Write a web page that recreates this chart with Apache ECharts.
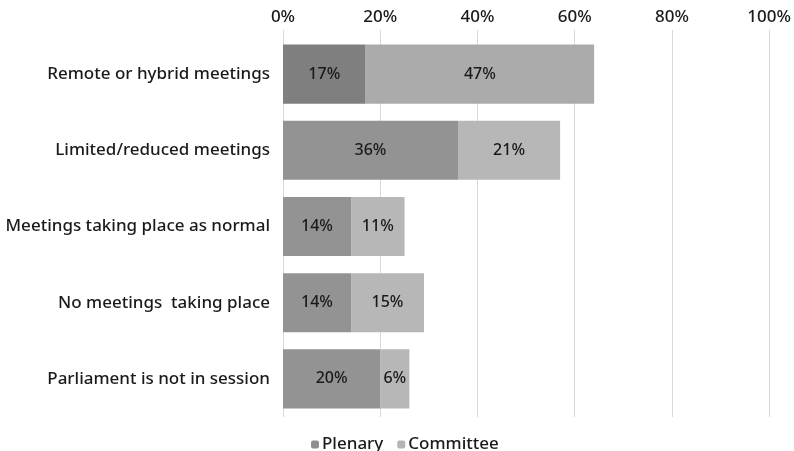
<!DOCTYPE html>
<html>
<head>
<meta charset="utf-8">
<script src="https://cdn.jsdelivr.net/npm/echarts@6/dist/echarts.min.js"></script>
<style>
  html, body { margin: 0; padding: 0; background: #fff; }
  #chart { width: 794px; height: 451px; }
</style>
</head>
<body>
<div id="chart"></div>
<script>
// Meeting arrangements, share of parliaments (%)
const categories = [
  'Remote or hybrid meetings',
  'Limited/reduced meetings',
  'Meetings taking place as normal',
  'No meetings  taking place',
  'Parliament is not in session'
];
const plenary = [17, 36, 14, 14, 20];
const committee = [47, 21, 11, 15, 6];
const xTicks = [0, 20, 40, 60, 80, 100];

// First row is emphasised with darker shades
const plenaryColors = ['#7f7f7f', '#939393', '#939393', '#939393', '#939393'];
const committeeColors = ['#ababab', '#b7b7b7', '#b7b7b7', '#b7b7b7', '#b7b7b7'];

const font = '"Noto Sans", "Open Sans", sans-serif';
const textColor = '#1a1a1a';

const chart = echarts.init(document.getElementById('chart'));

const labelStyle = {
  show: true,
  position: 'inside',
  formatter: p => p.value + '%',
  color: textColor,
  fontSize: 16,
  fontWeight: 500,
  fontFamily: font
};

chart.setOption({
  animation: false,
  grid: { left: 283, right: 24, top: 36, bottom: 34, containLabel: false },
  legend: {
    top: 431,
    left: 306,
    itemWidth: 8,
    itemHeight: 8,
    itemGap: 14,
    textStyle: { fontSize: 17, fontWeight: 500, color: textColor, fontFamily: font, padding: [0, 0, 0, -2] },
    data: [
      { name: 'Plenary', itemStyle: { color: '#8f8f8f' } },
      { name: 'Committee', itemStyle: { color: '#b5b5b5' } }
    ]
  },
  xAxis: {
    type: 'value',
    position: 'top',
    min: xTicks[0],
    max: xTicks[xTicks.length - 1],
    interval: 20,
    axisLine: { show: false },
    axisTick: { show: true, length: 6, lineStyle: { color: '#d9d9d9' } },
    splitLine: { show: true, lineStyle: { color: '#d9d9d9', width: 1 } },
    axisLabel: {
      formatter: v => v + '%',
      color: textColor,
      fontSize: 17,
      fontWeight: 500,
      fontFamily: font,
      margin: 10
    }
  },
  yAxis: {
    type: 'category',
    inverse: true,
    data: categories,
    axisLine: { show: false },
    axisTick: { show: false },
    axisLabel: {
      color: textColor,
      fontSize: 17,
      fontWeight: 500,
      fontFamily: font,
      margin: 13
    }
  },
  series: [
    {
      name: 'Plenary',
      type: 'bar',
      stack: 'total',
      barWidth: '77.5%',
      data: plenary.map((v, i) => ({ value: v, itemStyle: { color: plenaryColors[i] } })),
      label: labelStyle
    },
    {
      name: 'Committee',
      type: 'bar',
      stack: 'total',
      barWidth: '77.5%',
      data: committee.map((v, i) => ({ value: v, itemStyle: { color: committeeColors[i] } })),
      label: labelStyle
    }
  ]
});
</script>
</body>
</html>
